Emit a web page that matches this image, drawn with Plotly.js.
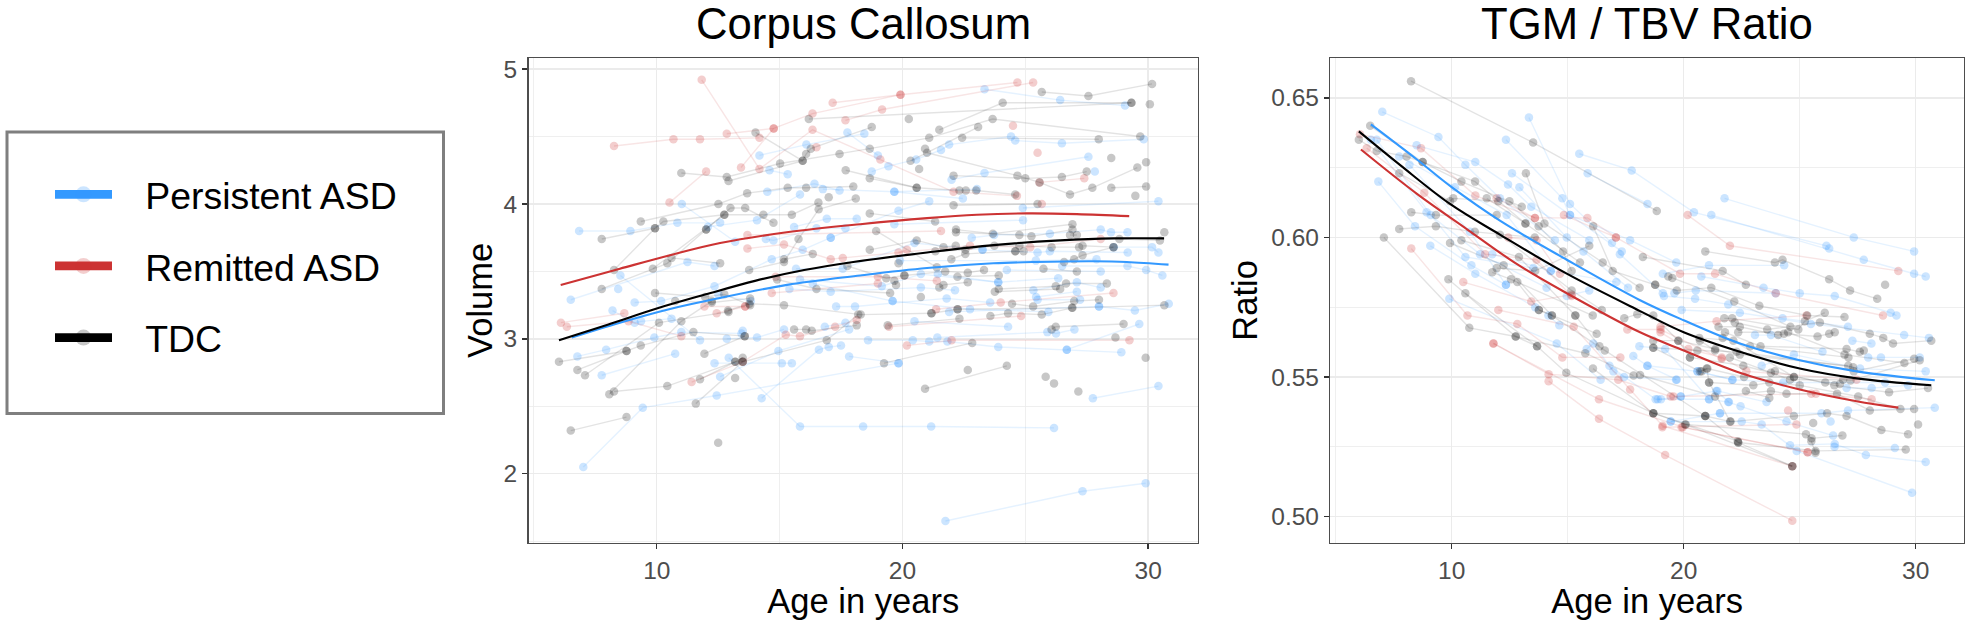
<!DOCTYPE html>
<html><head><meta charset="utf-8">
<script src="https://cdn.plot.ly/plotly-3.0.1.min.js"></script>
<style>html,body{margin:0;padding:0;background:#fff}#c{width:1971px;height:620px}</style>
</head><body><div id="c"></div>
<script>
const groupNames = ['Persistent ASD','Remitted ASD','TDC'];
const panelTitles = ['Corpus Callosum','TGM / TBV Ratio'];
const yTitles = ['Volume','Ratio'];
const xTitle = 'Age in years';

// Each entry: one subject's [age, value] visits
const ccPersistent = [
[[6.84,3.80],[8.93,3.80],[10.84,3.86],[12.58,3.86]],[[14.18,4.36],[16.09,4.44],[18.45,4.52]],
[[18.75,4.24],[19.43,4.28],[20.56,4.33],[21.57,4.4],[21.9,4.44],[24.42,4.5]],[[24.59,4.47],[26.49,4.45],[29.82,4.48]],
[[14.59,4.25],[15.33,4.22]],[[11.02,4.0],[13.19,3.72]],[[14.5,4.09],[16.42,4.15],[17.44,4.1]],[[12.08,3.83],[14.08,3.88],[15.83,4.07]],
[[14.44,3.74],[14.75,3.73],[16.5,3.82],[17.68,3.82]],[[15.59,3.83],[16.92,3.89],[18.14,3.89]],[[17.08,3.75],[19.84,3.95],[21.09,4.02]],
[[16.76,4.11],[19.67,4.09],[23.03,4.11]],[[17.76,4.53],[19.0,4.36]],[[8.52,3.47],[11.76,2.99]],[[8.43,3.37]],
[[6.5,3.29],[11.25,3.57],[12.35,3.54]],[[9.1,3.27],[10.18,3.28],[12.35,3.39],[14.68,3.59],[15.94,3.66],[17.08,3.75]],
[[15.67,3.52],[17.57,3.52],[20.49,3.71],[23.26,3.66]],[[15.83,3.44],[19.16,3.39],[20.75,3.48],[23.9,3.42]],
[[15.4,3.37],[17.08,3.35],[20.75,3.38],[22.14,3.36]],[[16.35,3.41],[19.6,3.28]],[[17.3,3.24],[18.07,3.24],[21.8,3.3],[23.57,3.27]],
[[23.34,4.85],[26.42,4.77],[29.06,4.73]],[[22,4.18],[23.34,4.23],[27.57,4.35]],[[27.83,4.24]],[[19.67,4.09],[22.46,4.04]],
[[24.9,3.97],[30.42,4.02]],[[19.67,3.85],[24.91,3.88]],[[22.82,3.75],[23.73,3.77],[26,3.78],[28.07,3.81],[28.49,3.79],[29.16,3.79]],
[[23.26,3.66],[25.5,3.64],[26,3.65],[29.17,3.64]],[[28.6,3.68],[30.16,3.68],[30.42,3.64]],[[19.9,3.58],[25.43,3.58],[27.9,3.59]],
[[26.5,3.54],[29.16,3.54],[29.92,3.51],[30.58,3.47]],[[24.25,3.51],[28.07,3.5]],[[21.44,3.48],[23.9,3.42],[26.34,3.45]],
[[25.33,3.36],[27.1,3.42],[28.07,3.38]],[[25.44,3.31],[27.1,3.35]],[[25.5,3.29],[27.23,3.29]],[[28,3.24],[29.46,3.21],[30.84,3.26]],
[[19.6,3.28],[22.75,3.22],[25.94,3.2]],[[21.9,3.2],[28,3.24]],[[20.49,3.13],[24.3,3.09]],[[26.69,2.92],[29.64,3.11]],
[[21.42,3.01],[25.9,3.05],[26.25,3.04],[27,3.07]],[[18.6,2.99],[20.42,2.99],[21.09,2.98],[21.83,2.98],[23.9,2.94],[26.69,2.92],[28.91,2.9]],
[[17.83,2.87],[19.84,2.82]],[[27.75,2.56],[30.42,2.65]],[[12.93,2.86],[15.83,2.35],[18.4,2.35],[21.17,2.35],[26.17,2.34]],
[[21.75,1.65],[27.33,1.87],[29.9,1.93]],[[7.01,2.05],[9.43,2.49],[12.44,2.58],[19.84,2.82]],[[7.76,2.73],[10.75,2.89]],
[[6.77,2.87],[7.94,2.92],[9.9,3.01],[11,3.05],[13.45,3.04]],[[12.85,3],[14.08,3.01],[15.18,3.07]],
[[14.27,2.56],[16.6,2.92],[17,2.94],[17.5,2.95]],[[12.58,2.72],[14.95,2.91],[17.83,3.07]],[[12.35,2.82],[15.09,2.82],[15.5,2.82]],
[[8.2,3.21],[9.1,3.12],[9.36,3.13],[10.6,3.15]],[[16.84,3.09],[17.68,3.12]],[[12.51,3.33],[13.83,3.28]],[[13.5,3.06]]
];
const ccRemitted = [
[[8.26,4.43],[10.68,4.48],[11.76,4.48],[14.18,4.49]],[[12.85,4.52],[14.76,4.56],[16.34,4.67],[19.92,4.81],[24.68,4.9]],
[[11.83,4.92],[14.18,4.26],[16.34,4.55],[19.1,4.33],[22.08,4.09],[24.66,4.06]],[[10.52,4.01],[12.01,4.24]],[[13.43,4.27],[14.76,4.56]],
[[16.5,4.42]],[[17.68,4.62],[19.17,4.7],[25.32,4.9]],[[17.16,4.75],[19.92,4.81]],[[24.5,4.58]],[[25.5,4.38]],[[25.58,4.16],[27.4,4.19]],
[[25.67,4]],[[13.69,3.77],[21.57,3.8]],[[13.69,3.67],[15.18,3.7],[17.08,3.59],[17.57,3.6],[22.75,3.69],[25.2,3.68],[28.07,3.74]],
[[19.84,3.64],[20.18,3.66]],[[14.84,3.46],[19,3.46],[21.4,3.43]],[[14.68,3.34],[19,3.41]],[[21.37,3.22],[24,3.27],[28.59,3.34]],
[[19.45,3.09],[24.83,3.17]],[[20.18,2.95],[22,2.99],[29.24,2.99]],[[6.1,3.12],[8.68,3.19]],[[6.34,3.09],[8.85,3.13],[11,3.02]],
[[11.94,3.24],[13.6,3.24]],[[12.44,3.19],[13.6,3.24]],[[11.42,2.68],[13.5,2.83],[15.25,3.03],[15.83,3.02],[17.26,3.09],[18.14,3.14]]
];
const ccTDC = [
[[7.76,3.74],[9.93,3.82],[10.27,3.87],[12.75,3.92]],[[9.35,3.87],[12.51,4],[13.68,4.08],[15.33,4.12],[16.08,4.12],[18,4.13]],
[[11,4.23],[12.85,4.2],[15.02,4.3],[17.44,4.37],[18.67,4.41],[21.09,4.49],[23.67,4.63],[29.68,4.5]],
[[12.92,4.17],[15.94,4.32],[16.08,4.37],[16.27,4.41],[18.75,4.57]],[[14.02,4.53],[15.94,4.32]],[[16.19,4.63],[29.32,4.75]],
[[21.5,4.55],[24.08,4.75],[29.32,4.75]],[[20.26,4.63]],[[8.26,3.51],[9.93,3.82]],[[9.84,3.52],[12.75,3.92],[14.34,3.92],[15.5,3.92],[16.58,4.01]],
[[12.01,3.81],[13,3.97],[13.6,3.97],[14.75,3.86]],[[7.76,3.37],[10.43,3.56],[12.01,3.81]],[[10.6,3.6],[12.58,3.56]],
[[13.76,3.51],[15.18,3.57],[15.77,3.74],[16.59,3.96],[18.1,4.04]],[[15.18,3.59],[16.35,3.63]],[[17,4.05]],[[17.69,4.25],[20.58,4.12]],
[[18.67,4.19],[20.58,4.12],[22.32,4.1],[22.58,4.1],[23,4.1],[24.59,4.07]],[[9.93,3.34],[11.97,3.31],[12.75,3.33],[13.8,3.25]],
[[10.75,3.28],[12.24,3.27],[13.8,3.3]],[[14.9,3.44],[16.5,3.37],[19.5,3.34]],[[12.9,3.21],[13.77,3.26],[15.18,3.25],[18.3,3.18],[21.18,3.19]],
[[17.76,3.54],[19.34,3.45],[20.08,3.47]],[[25.67,4.83],[27.57,4.8],[30.16,4.89]],[[30.07,4.74]],[[22.43,4.49],[27.99,4.48]],[[20.92,4.41]],
[[21,4.38],[24.68,4.21],[25.58,4.16],[26.82,4.07],[27.73,4.12],[29.56,4.27]],[[20.33,4.32],[23.08,4.57]],[[28.5,4.34]],[[29.92,4.31]],[[20.68,4.26]],
[[22.08,4.21],[25,4.19],[26.49,4.2],[27.5,4.24]],[[28.5,4.12],[29.92,4.13]],[[29.48,4.06]],[[22.08,3.99],[25.5,4]],[[18.67,3.93],[21.33,3.87]],
[[18.93,3.8],[21.4,3.53]],[[22.18,3.81],[23.68,3.78],[26.92,3.85]],[[22.18,3.79],[24.76,3.77],[25.25,3.76],[26.92,3.81]],[[26.82,3.77],[27.1,3.77]],
[[30.66,3.79]],[[28.83,3.74],[30.48,3.73]],[[18.67,3.66],[20.58,3.73],[21.67,3.68],[22.17,3.69]],
[[21.34,3.65],[22.56,3.66],[23.74,3.69],[24.76,3.69],[26.07,3.68],[27.19,3.68]],[[24.59,3.65],[24.93,3.65]],[[27.33,3.69],[28.59,3.68]],
[[21.99,3.59],[22.56,3.63],[24.6,3.65]],[[19.84,3.56]],[[26.58,3.57],[26.99,3.59],[27.33,3.62],[28.59,3.68]],[[25.74,3.52],[27.1,3.5]],
[[20.08,3.47],[21.74,3.5],[22.66,3.49],[23.32,3.51]],[[19.67,3.43],[19.74,3.4]],[[22.24,3.46],[23.92,3.47]],[[21.5,3.38],[21.67,3.4],[22.66,3.42]],
[[23.92,3.37],[26.24,3.39],[26.66,3.41],[28.32,3.41]],[[23.76,3.35],[26.42,3.37]],[[24.46,3.26],[25.32,3.24],[26.99,3.28],[28,3.29]],
[[22.25,3.22],[26.9,3.23]],[[20.75,3.31]],[[23.58,3.17],[24.3,3.19],[25.67,3.18],[26.92,3.23],[30.66,3.25]],[[21.18,3.19],[22.24,3.22]],
[[19.4,3.1],[22.32,3.15]],[[26.07,3.07],[26.24,3.09],[29,3.11]],[[28.67,3.01]],[[19.25,2.82],[22.84,2.97]],[[29.9,2.86]],[[20.92,2.63],[24.25,2.8]],
[[22.66,2.77]],[[25.83,2.72]],[[26.17,2.67]],[[27.16,2.61]],[[6.02,2.83],[8.77,2.91],[9.35,2.95],[11.49,3.05],[13.58,3.02]],
[[6.77,2.77],[8.77,2.91]],[[7.08,2.73],[10.09,3.12],[12.92,3.2]],[[8.07,2.59],[11,3.13],[12.24,3.28]],[[8.26,2.61],[10.43,2.65],[13.19,2.83],[13.5,2.86]],
[[11.76,2.7],[13.2,2.83],[13.5,2.83]],[[11.59,2.52],[13.5,2.83],[16.92,2.99],[18.2,3.18]],[[13.19,2.71]],[[6.5,2.32],[8.77,2.42]],[[12.5,2.23]],
[[11.94,2.89],[13.58,3.02]],[[15.59,3.07],[16.08,3.07],[16.31,3.06],[18.14,3.1]]
];
const ratioPersistent = [
[[7.01,.645],[9.43,.636],[10.59,.626],[12.08,.614],[14.45,.599]],[[8.49,.633],[11.02,.627],[12.43,.619],[13.43,.611],[15.93,.599]],
[[7.74,.629],[10.14,.618],[12.37,.608],[14.27,.588]],[[8.18,.626],[10.79,.602],[12.34,.583]],[[6.52,.635],[8.92,.609],[11.22,.594],[14.09,.582]],
[[6.77,.635],[9.1,.608],[10.59,.593],[13.52,.589]],[[6.84,.62],[8.42,.604],[10.85,.59],[12.34,.583]],[[12.34,.635],[14.77,.614],[15.1,.608],[17.33,.595]],
[[13.33,.643],[15.1,.612],[16.91,.598]],[[15.5,.63],[17.76,.624],[20.44,.609],[26.15,.597],[26.27,.596]],[[15.86,.623],[18.44,.612]],
[[12.6,.623],[15.1,.608],[17.69,.599],[19.68,.591]],[[12.92,.618],[14.96,.6],[15.68,.595],[17.6,.582]],[[11.75,.594],[14.27,.588],[17.1,.584]],
[[9.08,.597],[11.02,.587],[13.6,.575]],[[9.9,.578],[14.53,.562],[16.42,.549]],[[21.76,.614],[27.33,.6],[29.93,.595]],
[[21.19,.608],[27.76,.592],[29.93,.587],[30.43,.586]],[[19.1,.587],[21.09,.59],[24.33,.59]],[[20.76,.586],[23.44,.582],[25,.58],[26.51,.579],[28.92,.573],[29.17,.572]],
[[19.6,.58],[20.52,.581],[23.96,.58]],[[19.15,.579],[20.49,.578],[21.92,.576],[24.26,.571],[27.08,.568]],[[19.91,.574],[22.42,.573],[25.48,.569],[29.5,.565],[30.57,.564]],
[[20.59,.552],[22.1,.549],[24.29,.548],[28.68,.548]],[[23.07,.565],[23.76,.565],[25.98,.559]],[[27.27,.563],[28.09,.562]],[[27.95,.557],[28.5,.557],[30.17,.557]],
[[23.36,.554],[24.75,.558],[27.6,.553],[30.43,.552]],[[27.02,.546],[28.1,.546],[29.67,.547]],[[21.56,.537],[25.94,.537],[27.08,.538],[30.82,.539]],[[26.33,.534]],
[[18.88,.542],[21.09,.542],[21.92,.541],[22.45,.5395],[24.43,.534],[26.44,.529]],[[19.87,.543],[21.45,.545],[23.57,.541]],[[19.44,.534],[22.5,.534],[23.36,.533],[24.87,.5235],[29.84,.5085]],
[[18.44,.554],[19.7,.549]],[[24.58,.5255],[26.51,.526],[27.85,.522],[30.43,.5195]],[[26.5,.525],[29.1,.5245]],[[14.17,.572],[14.64,.5685]],
[[15.82,.56],[16.1,.562],[16.97,.552],[17.43,.55],[19.67,.549]],[[16.8,.554],[18.79,.542],[19.02,.542],[19.87,.543]],[[17.83,.5575],[18.43,.554],[20.6,.552],[22.1,.549]],
[[18.09,.561],[19.2,.56],[21.1,.542]],[[19.44,.534],[21.57,.537]],[[21.4,.545],[21.95,.541]],[[14.96,.579],[15.93,.581]],[[17.25,.594],[19.1,.58]]
];
const ratioRemitted = [
[[6.05,.637],[8.68,.632],[11.02,.615],[13.59,.607]],[[6.34,.632],[8.82,.616],[11.44,.594],[13.66,.592],[15.17,.579]],[[8.26,.596],[10.68,.572],[12.83,.569],[14.77,.557],[17.27,.557]],
[[10.5,.584],[13.43,.577],[15.17,.5795]],[[11.94,.614],[13.59,.607],[15.85,.607],[17.08,.6]],[[12.44,.6],[13.66,.599],[14.67,.587]],[[20.17,.608],[21.99,.597],[29.25,.588]],
[[14.84,.608],[17.08,.6],[19.84,.587],[21.35,.587],[23.97,.58],[28.59,.572]],[[19,.568],[21.42,.57],[25.29,.572]],[[19,.566],[20.2,.56],[21.64,.557],[22.7,.552],[27.45,.549]],
[[19.56,.543],[25.5,.544],[25.7,.544],[28.1,.542]],[[19.08,.532],[24.86,.533]],[[19.91,.532],[25.34,.523]],[[24.5,.538]],[[14.18,.5485],[16.35,.535],[19.2,.522],[24.68,.4985]],
[[11.8,.562],[14.18,.551],[17.18,.549],[19.44,.543]],[[11.8,.562],[16.35,.542],[19.96,.532],[25.34,.523]],[[12.01,.574],[15.26,.568],[17.69,.5455],[19.09,.5325],[24.68,.518]],
[[17.57,.567],[19,.567],[21.64,.5565]]
];
const ratioTDC = [
[[8.25,.656],[13.51,.634],[18.84,.6095]],[[6.49,.64],[8.75,.627],[10.42,.62],[13.02,.611]],[[6,.635],[6.77,.631],[8.06,.629],[8.75,.627],[11.01,.62],[13.18,.605]],
[[7.74,.623],[9.93,.613],[10.07,.614],[12.01,.613]],[[8.26,.609],[9.32,.608],[11.94,.608]],[[7.74,.603],[9.32,.604],[11,.602],[13.58,.6]],[[7.08,.6],[10.76,.5676],[12.76,.5645],[13.68,.561]],
[[11.51,.614],[13.18,.605],[15.53,.591]],[[12.49,.613],[13.75,.604],[14.8,.595],[15.17,.588]],[[13.2,.623],[14,.605],[16.51,.591],[18.1,.582]],[[16.1,.604],[16.94,.588],[18.77,.583]],
[[12.08,.601],[15.17,.581],[16.47,.574]],[[9.93,.598],[12.24,.59],[14.32,.572]],[[10.42,.599],[12.9,.593],[15.33,.572]],[[11.75,.5875],[12.56,.585],[16.08,.572]],[[11.94,.589],[13.6,.588],[15.93,.597]],
[[12.83,.584],[13.76,.574],[16.25,.5655]],[[10.59,.58],[13.68,.561],[14.94,.5515],[18.69,.537],[20.06,.533],[24.68,.518]],[[9.86,.585],[12.76,.5645],[15.76,.5585],[17.84,.5505]],
[[20.93,.595],[23.93,.591],[24.26,.592],[26.27,.585],[27.17,.581],[28.34,.578]],[[28.68,.583]],[[18.24,.593],[21.68,.588],[22.68,.583]],[[19.34,.586],[19.51,.5855],[22.18,.577],[24.6,.568]],
[[18.77,.583],[19.7,.581],[21.19,.582],[23.26,.5755],[25.32,.572],[26.93,.5715]],[[21.75,.571],[22.09,.571],[24.94,.567],[25.22,.57],[26.08,.573]],
[[22.2,.5695],[23.6,.567],[25.87,.5695],[28.02,.5655],[28.6,.564],[29.02,.562],[30.67,.563]],[[21.5,.568],[22.42,.568],[24.07,.565],[24.32,.5655],[25.77,.5645],[26.27,.5655],[26.51,.566]],
[[22.35,.566],[24.5,.566],[26.93,.558],[29.51,.555]],[[21.78,.566],[23.31,.561],[27.02,.56],[27.59,.559],[27.76,.5595]],[[21.68,.564],[22.86,.561],[27.1,.557]],
[[20.67,.564],[22.14,.563],[24.75,.55]],[[18.69,.563],[19.77,.563],[21.36,.56],[22.42,.558],[27.09,.554]],[[18.69,.5605],[20.59,.5595],[22.28,.559],[27.3,.5535],[27.33,.552],[29.93,.5565]],
[[21.99,.557],[24.58,.549],[26.87,.549],[27.19,.5487],[30.17,.556]],[[20.27,.557],[22.57,.554],[23.76,.5515],[23.93,.552],[26.49,.547],[28.85,.5445],[30.53,.546]],
[[20.77,.552],[21.02,.553],[22.6,.55],[24.75,.55],[26.1,.548],[26.73,.5475]],[[21.09,.548],[23,.547],[23.69,.548],[25,.547],[27.52,.543],[29.34,.5385]],
[[18.12,.5507],[21.35,.543],[23.76,.545],[24.43,.544],[26.61,.544],[28.02,.538],[29.93,.5385]],[[22.68,.545],[23.69,.5425]],
[[18.69,.537],[20.93,.536],[22.02,.534],[24.75,.536],[26.18,.537],[27.02,.536],[28.52,.531],[29.67,.5295]],[[30.1,.533]],[[20.09,.533],[25.27,.5295],[25.51,.528],[26.84,.529]],
[[25.58,.5335]],[[22.35,.5265],[25.68,.5235],[29.57,.524]],[[20.93,.536],[22.35,.5265],[24.68,.518]],[[16.09,.553],[18.69,.537],[22.33,.527]],[[13.76,.574],[14.32,.572],[16.6,.5595],[20.93,.536]],
[[15.33,.572],[16.37,.561]],[[17.44,.571],[18,.5725],[18.69,.572],[19.77,.563],[20.27,.557]],[[18.69,.5605],[20.7,.552],[20.99,.553],[21.1,.548],[22,.534]],[[20.7,.563],[21.35,.5595]],
[[25.5,.527],[25.68,.5228]]
];

// Fitted group curves: ages and values
const ccFitAgeP = [6.54,8.5,10.5,12.24,15.3,18.28,21,23.7,25.43,27.8,29.13,30.83];
const ccFitValP = [3.01,3.12,3.22,3.29,3.40,3.47,3.525,3.56,3.57,3.575,3.57,3.55];
const ccFitAgeR = [6.09,8.5,10.54,12.58,15.29,18.28,21,23.03,25.06,27.1,29.23];
const ccFitValR = [3.4,3.52,3.62,3.71,3.79,3.85,3.895,3.92,3.93,3.925,3.91];
const ccFitAgeT = [6.02,8,10,12,14,16,18,21,23.7,26.42,28.59,30.65];
const ccFitValT = [2.99,3.105,3.225,3.33,3.43,3.51,3.57,3.64,3.695,3.73,3.745,3.745];
const ratioFitAgeP = [6.52,8.49,10,12.08,14.96,18.12,20,22.42,25,27.45,30.82];
const ratioFitValP = [.6405,.628,.618,.606,.592,.5775,.5703,.562,.556,.552,.5488];
const ratioFitAgeR = [6.09,8.49,10.65,12.8,14.96,18.12,20,22.42,25,27.45,29.25];
const ratioFitValR = [.6315,.6157,.603,.5905,.58,.566,.5595,.5515,.5455,.5413,.539];
const ratioFitAgeT = [6,7.77,9.93,12.08,14.96,18.12,20,22.42,25,27.45,30.67];
const ratioFitValT = [.638,.626,.612,.601,.587,.5736,.566,.559,.553,.5495,.547];

const colors = ['#3399FF','#CC3333','#000000'];
const fade = [['rgba(51,153,255,.25)','rgba(51,153,255,.13)'],['rgba(204,51,51,.24)','rgba(204,51,51,.13)'],['rgba(0,0,0,.22)','rgba(0,0,0,.11)']];
const FONT = '"Liberation Sans", Arial, sans-serif';
const W = 1971, H = 620;
const traces = [];
// Legend entries
groupNames.forEach((n,g)=>traces.push({x:[null],y:[null],type:'scatter',mode:'lines+markers',name:'\u00a0\u00a0\u2009'+n,legendgroup:n,
  line:{color:colors[g],width:8.7},marker:{color:fade[g][0],size:16},hoverinfo:'skip'}));
function subjects(list,g,xa,ya){ list.forEach(s=>traces.push({x:s.map(p=>p[0]),y:s.map(p=>p[1]),xaxis:xa,yaxis:ya,type:'scatter',
  mode:s.length>1?'lines+markers':'markers',showlegend:false,hoverinfo:'skip',line:{color:fade[g][1],width:1.4},
  marker:{color:fade[g][0],size:8.5,symbol:'circle'}})); }
[ccPersistent,ccRemitted,ccTDC].forEach((l,g)=>subjects(l,g,'x','y'));
[ratioPersistent,ratioRemitted,ratioTDC].forEach((l,g)=>subjects(l,g,'x2','y2'));
function fit(x,y,g,xa,ya){ traces.push({x,y,xaxis:xa,yaxis:ya,type:'scatter',mode:'lines',showlegend:false,hoverinfo:'skip',
  line:{color:colors[g],width:2.1,shape:'spline',smoothing:1}}); }
fit(ccFitAgeP,ccFitValP,0,'x','y');fit(ccFitAgeR,ccFitValR,1,'x','y');fit(ccFitAgeT,ccFitValT,2,'x','y');
fit(ratioFitAgeP,ratioFitValP,0,'x2','y2');fit(ratioFitAgeR,ratioFitValR,1,'x2','y2');fit(ratioFitAgeT,ratioFitValT,2,'x2','y2');

const top_ = 58, bottom = 542.7;
const yDomain = [1-bottom/H, 1-top_/H];
function xAxis(dom,range,anchor){ return {domain:[dom[0]/W,dom[1]/W],range,anchor,tick0:0,dtick:10,ticks:'outside',ticklen:5,tickwidth:1.4,tickcolor:'#333333',
  tickfont:{family:FONT,size:24.5,color:'#4D4D4D'},showline:true,linecolor:'#4d4d4d',linewidth:1.4,mirror:true,zeroline:false,
  gridcolor:'#EBEBEB',gridwidth:1.4,minor:{tick0:0,dtick:5,showgrid:true,gridcolor:'#EBEBEB',gridwidth:.8,ticks:''},
  title:{text:xTitle,font:{family:FONT,size:34.5,color:'#000'},standoff:2}}; }
function yAxis(range,anchor,dtick,tick0,fmt,minorD,title,standoff){ return {domain:yDomain,range,anchor,tick0,dtick,tickformat:fmt,ticks:'outside',ticklen:5,tickwidth:1.4,tickcolor:'#333333',
  tickfont:{family:FONT,size:24.5,color:'#4D4D4D'},showline:true,linecolor:'#4d4d4d',linewidth:1.4,mirror:true,zeroline:false,
  gridcolor:'#EBEBEB',gridwidth:1.4,minor:{tick0,dtick:minorD,showgrid:true,gridcolor:'#EBEBEB',gridwidth:.8,ticks:''},
  title:{text:title,font:{family:FONT,size:34.5,color:'#000'},standoff}}; }
const layout = {
  width:W,height:H,margin:{l:0,r:0,t:0,b:0},paper_bgcolor:'#fff',plot_bgcolor:'#fff',font:{family:FONT},
  xaxis:xAxis([528.5,1198],[4.78,32.03],'y'),
  yaxis:yAxis([1.489,5.082],'x',1,2,'d',.5,yTitles[0],0),
  xaxis2:xAxis([1330.3,1964],[4.77,32.08],'y2'),
  yaxis2:yAxis([.4906,.6643],'x2',.05,.5,'.2f',.025,yTitles[1],3),
  legend:{x:50/W,xanchor:'left',y:1-163.5/H,yanchor:'top',traceorder:'grouped',tracegroupgap:20,itemwidth:57,bgcolor:'rgba(0,0,0,0)',borderwidth:0,
    font:{family:FONT,size:37.4,color:'#000'}},
  shapes:[{type:'rect',xref:'paper',yref:'paper',x0:7/W,x1:443.5/W,y0:1-413.5/H,y1:1-132/H,line:{color:'#7F7F7F',width:3},fillcolor:'rgba(0,0,0,0)',layer:'below'}],
  annotations:[
    {text:panelTitles[0],xref:'paper',yref:'paper',x:863/W,y:1-50/H,xanchor:'center',yanchor:'bottom',showarrow:false,font:{family:FONT,size:43.7,color:'#000'}},
    {text:panelTitles[1],xref:'paper',yref:'paper',x:1647/W,y:1-50/H,xanchor:'center',yanchor:'bottom',showarrow:false,font:{family:FONT,size:43.7,color:'#000'}}
  ]
};
Plotly.newPlot('c',traces,layout,{displayModeBar:false,staticPlot:true});
</script></body></html>
